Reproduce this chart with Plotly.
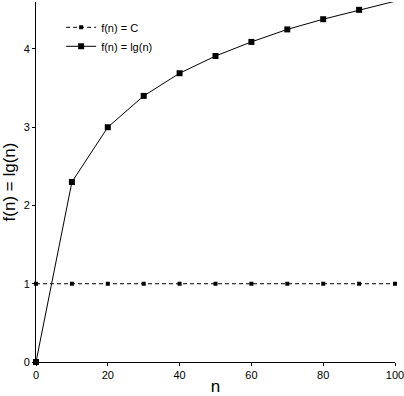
import plotly.graph_objects as go

n_vals = [0, 10, 20, 30, 40, 50, 60, 70, 80, 90, 100]
const_vals = [1, 1, 1, 1, 1, 1, 1, 1, 1, 1, 1]
lg_vals = [0, 2.30, 3.00, 3.40, 3.69, 3.91, 4.09, 4.25, 4.38, 4.50, 4.61]
x_ticks = [0, 20, 40, 60, 80, 100]
y_ticks = [0, 1, 2, 3, 4]

FONT = "Liberation Sans, Arial, sans-serif"

fig = go.Figure()
fig.add_trace(go.Scatter(
    x=n_vals, y=const_vals, mode="lines+markers", name="f(n) = C",
    line=dict(color="black", width=1, dash="4px,3px"),
    marker=dict(symbol="square", size=4, color="black"),
    cliponaxis=False,
))
fig.add_trace(go.Scatter(
    x=n_vals, y=lg_vals, mode="lines+markers", name="f(n) = lg(n)",
    line=dict(color="black", width=1),
    marker=dict(symbol="square", size=6, color="black"),
    cliponaxis=False,
))

fig.update_layout(
    width=404, height=396,
    margin=dict(l=36, r=9, t=2, b=34),
    paper_bgcolor="white", plot_bgcolor="white",
    font=dict(family=FONT, color="black", size=11),
    showlegend=True,
    legend=dict(x=0.07, y=0.97, xanchor="left", yanchor="top",
                bgcolor="rgba(0,0,0,0)", font=dict(size=11),
                tracegroupgap=0, itemwidth=30),
    xaxis=dict(range=[0, 100], tickvals=x_ticks, showgrid=False, zeroline=False,
               showline=True, linecolor="black", linewidth=1, automargin=False,
               ticks="outside", ticklen=3, tickcolor="black",
               ticklabeloverflow="allow",
               title=dict(text="n", font=dict(size=17), standoff=9)),
    yaxis=dict(range=[0, 4.6], tickvals=y_ticks, showgrid=False, zeroline=False,
               showline=True, linecolor="black", linewidth=1, automargin=False,
               ticks="outside", ticklen=3, tickcolor="black",
               ticklabeloverflow="allow",
               title=dict(text="f(n) = lg(n)", font=dict(size=17), standoff=7)),
)

fig.write_html("out.html",
               config={"displayModeBar": False},
               post_script="document.body.style.margin='0px';document.body.style.overflow='hidden';")
